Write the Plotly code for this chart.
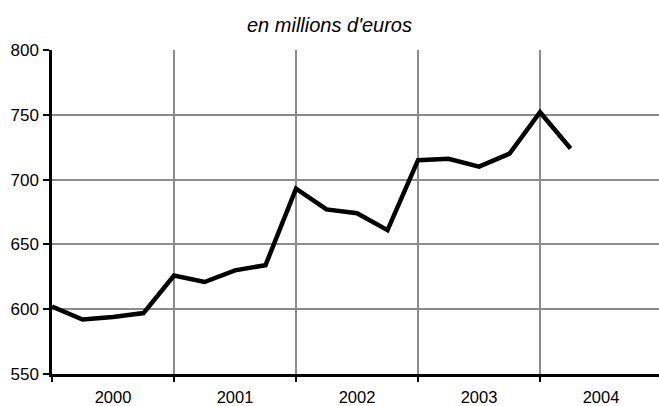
import plotly.graph_objects as go

# Quarterly series, 2000 Q1 to 2004 Q2 (values in millions of euros)
quarters = list(range(18))
values = [602, 592, 594, 597, 626, 621, 630, 634, 693, 677, 674, 661,
          715, 716, 710, 720, 752, 724]

years = ["2000", "2001", "2002", "2003", "2004"]
year_starts = [0, 4, 8, 12, 16, 20]
year_centers = [2, 6, 10, 14, 18]

y_ticks = [550, 600, 650, 700, 750, 800]

FONT = "Liberation Sans, Arial, sans-serif"
GRID = "#8c8c8c"

fig = go.Figure()
fig.add_trace(go.Scatter(
    x=quarters, y=values, mode="lines",
    line=dict(color="black", width=4.5),
    hoverinfo="skip", showlegend=False,
))
# invisible trace that carries the year labels axis
fig.add_trace(go.Scatter(
    x=[year_centers[0]], y=[values[0]], xaxis="x2", mode="markers",
    marker=dict(opacity=0), hoverinfo="skip", showlegend=False,
))

x_max = 19.9

fig.update_layout(
    width=659, height=406,
    margin=dict(l=52, r=0, t=50, b=30),
    paper_bgcolor="white", plot_bgcolor="white",
    font=dict(family=FONT, color="black", size=16),
    title=dict(
        text="<i>en millions d'euros</i>",
        x=0.5, xanchor="center", xref="container",
        y=1 - 25 / 406, yanchor="middle", yref="container",
        font=dict(family=FONT, size=20, color="black"),
    ),
    xaxis=dict(
        range=[0, x_max], tickvals=year_starts, showticklabels=False,
        ticks="outside", ticklen=5, tickwidth=2, tickcolor="black",
        showgrid=True, gridcolor=GRID, gridwidth=2,
        showline=True, linecolor="black", linewidth=2.5,
        zeroline=False, fixedrange=True,
    ),
    xaxis2=dict(
        overlaying="x", side="bottom", matches="x",
        range=[0, x_max], tickvals=year_centers, ticktext=years,
        ticks="", showgrid=False, showline=False, zeroline=False,
        tickfont=dict(family=FONT, size=16.5, color="black"),
        ticklabelstandoff=11,
    ),
    yaxis=dict(
        range=[550, 800], tickvals=y_ticks,
        ticks="outside", ticklen=6, tickwidth=2, tickcolor="black",
        showgrid=True, gridcolor=GRID, gridwidth=2,
        showline=True, linecolor="black", linewidth=2.5,
        zeroline=False, tickfont=dict(family=FONT, size=17, color="black"),
        ticklabelstandoff=1,
    ),
)

fig.write_html("out.html")
